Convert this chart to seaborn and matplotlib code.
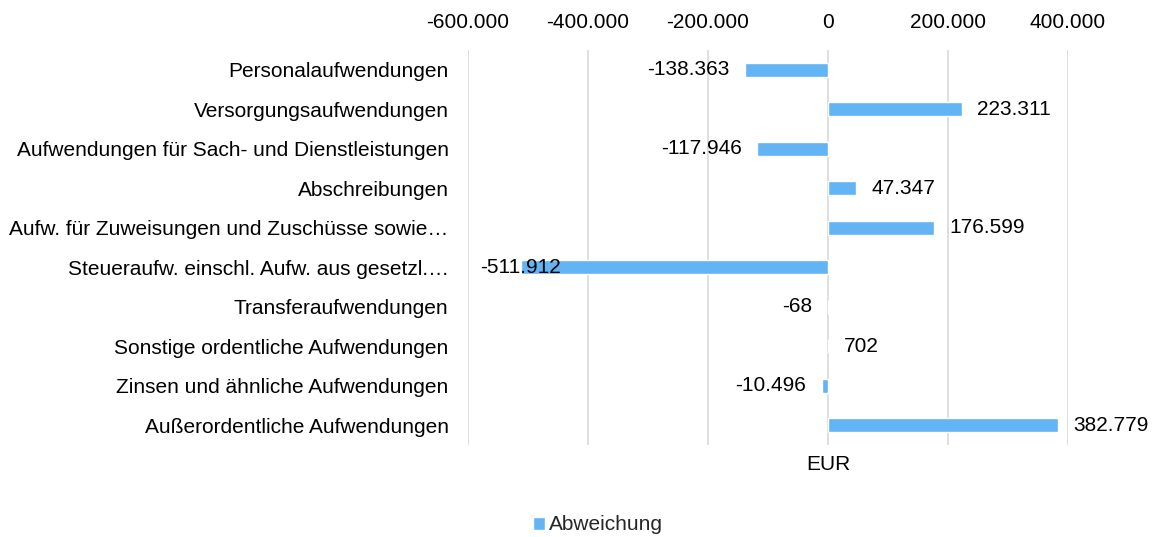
import matplotlib
matplotlib.use("Agg")
import matplotlib.pyplot as plt
from matplotlib.ticker import FuncFormatter
import seaborn as sns
import pandas as pd

categories = [
    "Personalaufwendungen",
    "Versorgungsaufwendungen",
    "Aufwendungen für Sach- und Dienstleistungen",
    "Abschreibungen",
    "Aufw. für Zuweisungen und Zuschüsse sowie…",
    "Steueraufw. einschl. Aufw. aus gesetzl.…",
    "Transferaufwendungen",
    "Sonstige ordentliche Aufwendungen",
    "Zinsen und ähnliche Aufwendungen",
    "Außerordentliche Aufwendungen",
]
abweichung = [-138363, 223311, -117946, 47347, 176599, -511912, -68, 702, -10496, 382779]
x_ticks = [-600000, -400000, -200000, 0, 200000, 400000]

df = pd.DataFrame({"Kategorie": categories, "Abweichung": abweichung})

sns.set_theme(style="white")
plt.rcParams["font.family"] = ["Liberation Sans", "DejaVu Sans"]

FS = 15
BAR = "#63B4F5"
fig = plt.figure(figsize=(11.57, 5.37), dpi=100)
ax = fig.add_axes([468 / 1157, 1 - 445 / 537, 600 / 1157, 395 / 537])

sns.barplot(data=df, y="Kategorie", x="Abweichung", orient="h", color=BAR,
            saturation=1, width=0.36, ax=ax, label="Abweichung")

ax.set_xlim(x_ticks[0], x_ticks[-1])
ax.set_ylim(len(categories) - 0.5, -0.5)
ax.set_xticks(x_ticks)


def de_fmt(v, pos=None):
    s = f"{abs(int(round(v))):,}".replace(",", ".")
    return ("-" if v < 0 else "") + s


ax.xaxis.set_major_formatter(FuncFormatter(de_fmt))
ax.xaxis.tick_top()
ax.tick_params(axis="x", length=0, labelsize=FS, pad=13, colors="black")
ax.tick_params(axis="y", length=0, labelsize=FS, pad=14, colors="black")
ax.set_xlabel("")
ax.set_ylabel("")
for s in ax.spines.values():
    s.set_visible(False)
ax.grid(axis="x", color="#D9D9D9", linewidth=1.2)
ax.set_axisbelow(True)

# value labels at the bar ends, kept inside the plotting range
for i, v in enumerate(abweichung):
    txt = de_fmt(v)
    if v >= 0:
        ax.annotate(txt, (v, i), xytext=(11, 0), textcoords="offset points",
                    ha="left", va="center", fontsize=FS, color="black")
    elif v < -480000:
        ax.annotate(txt, (x_ticks[0], i), xytext=(9, 0), textcoords="offset points",
                    ha="left", va="center", fontsize=FS, color="black")
    else:
        ax.annotate(txt, (v, i), xytext=(-11, 0), textcoords="offset points",
                    ha="right", va="center", fontsize=FS, color="black")

ax.text(0, -0.05, "EUR", transform=ax.get_xaxis_transform(),
        ha="center", va="center", fontsize=FS, color="black")

if ax.legend_:
    ax.legend_.remove()
fig.legend(loc="center", bbox_to_anchor=(598 / 1157, 1 - 525 / 537), frameon=False,
           fontsize=FS, handlelength=0.6, handleheight=0.6, handletextpad=0.2)

fig.savefig("out.png", dpi=100, facecolor="white")
